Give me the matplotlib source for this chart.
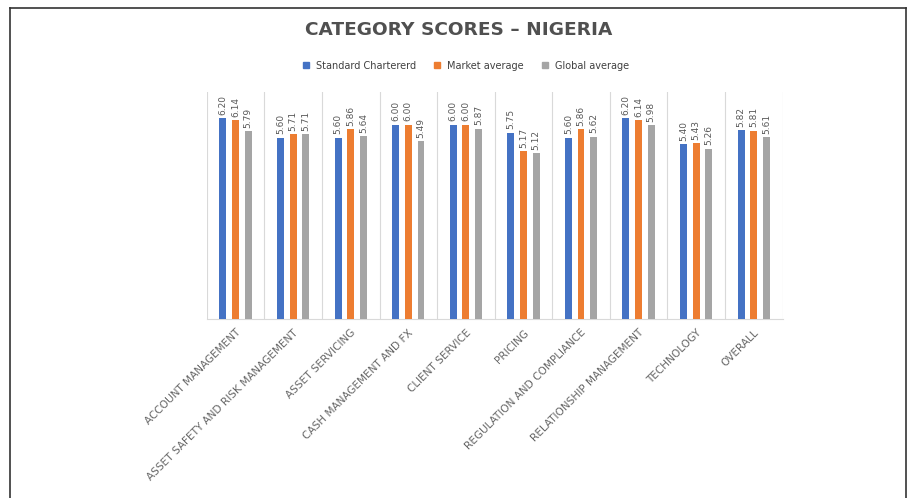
import matplotlib
matplotlib.use("Agg")
import matplotlib.pyplot as plt
import numpy as np
from matplotlib.lines import Line2D

categories = ["ACCOUNT MANAGEMENT", "ASSET SAFETY AND RISK MANAGEMENT", "ASSET SERVICING",
              "CASH MANAGEMENT AND FX", "CLIENT SERVICE", "PRICING",
              "REGULATION AND COMPLIANCE", "RELATIONSHIP MANAGEMENT", "TECHNOLOGY", "OVERALL"]
standard_chartered = [6.20, 5.60, 5.60, 6.00, 6.00, 5.75, 5.60, 6.20, 5.40, 5.82]
market_average = [6.14, 5.71, 5.86, 6.00, 6.00, 5.17, 5.86, 6.14, 5.43, 5.81]
global_average = [5.79, 5.71, 5.64, 5.49, 5.87, 5.12, 5.62, 5.98, 5.26, 5.61]
series_names = ["Standard Chartererd", "Market average", "Global average"]
colors = ["#4472C4", "#ED7D31", "#A5A5A5"]

fig = plt.figure(figsize=(9.11, 4.98), dpi=100)
ax = fig.add_axes([0.227, 0.359, 0.632, 0.456])

x = np.arange(len(categories))
w = 0.12
offs = [-0.22, 0.0, 0.22]
for vals, off, c in zip([standard_chartered, market_average, global_average], offs, colors):
    ax.bar(x + off, vals, width=w, color=c, zorder=3)
    for xi, v in zip(x, vals):
        ax.annotate("%.2f" % v, (xi + off, v), xytext=(0, 2.5), textcoords="offset points",
                    rotation=90, ha="center", va="bottom", fontsize=6.5, color="#595959")

ax.set_xlim(-0.5, len(categories) - 0.5)
ax.set_ylim(0, 7.0)
for b in np.arange(-0.5, len(categories), 1.0):
    ax.axvline(b, color="#D9D9D9", lw=0.8, zorder=1)
for s in ["top", "right", "left"]:
    ax.spines[s].set_visible(False)
ax.spines["bottom"].set_color("#D9D9D9")
ax.set_yticks([])
ax.set_xticks(x)
ax.set_xticklabels(categories, rotation=45, ha="right", rotation_mode="anchor",
                   fontsize=7.6, color="#666666")
ax.tick_params(axis="x", length=0, pad=6)

fig.text(0.503, 0.94, "CATEGORY SCORES – NIGERIA", ha="center", va="center",
         fontsize=13.3, fontweight="bold", color="#505050")
handles = [Line2D([], [], marker="s", ls="", color=c, markersize=5) for c in colors]
fig.legend(handles, series_names, loc="center", bbox_to_anchor=(0.508, 0.868), ncol=3,
           frameon=False, fontsize=7, handletextpad=0.0, columnspacing=1.2,
           labelcolor="#404040")

# outer border (left, top, right)
fig.add_artist(Line2D([0.011, 0.011], [0.0, 0.984], color="#333333", lw=1.2))
fig.add_artist(Line2D([0.011, 0.995], [0.984, 0.984], color="#333333", lw=1.2))
fig.add_artist(Line2D([0.995, 0.995], [0.0, 0.984], color="#333333", lw=1.2))

fig.savefig("out.png", dpi=100)
